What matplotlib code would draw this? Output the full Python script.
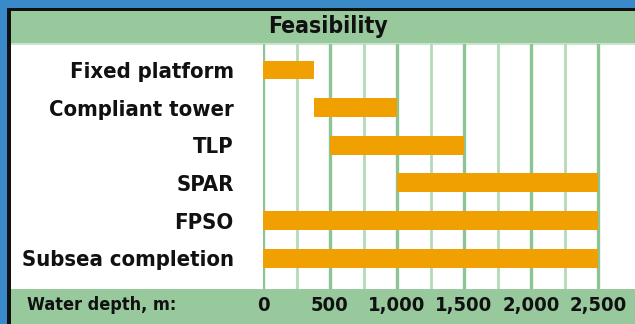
import matplotlib
matplotlib.use("Agg")
import matplotlib.pyplot as plt
from matplotlib.patches import Rectangle
from matplotlib.ticker import FuncFormatter
from matplotlib import font_manager
from matplotlib.font_manager import FontProperties

categories = ["Fixed platform", "Compliant tower", "TLP", "SPAR", "FPSO", "Subsea completion"]
start_depth = [0, 380, 500, 1000, 0, 0]
end_depth = [380, 1000, 1500, 2500, 2500, 2500]
major_ticks = [0, 500, 1000, 1500, 2000, 2500]
minor_ticks = [250, 750, 1250, 1750, 2250]
title = "Feasibility"
xlabel = "Water depth, m:"

cond_file = None
for key in ["LiberationSansNarrow-Bold.", "DejaVuSansCondensed-Bold.", "RobotoCondensed-Bold", "OpenSans_Condensed-Bold", "OpenSansCondensed-Bold"]:
    for f in font_manager.fontManager.ttflist:
        if key.lower() in f.fname.lower().replace(" ", ""):
            cond_file = f.fname
            break
    if cond_file:
        break

def fp(size, weight="bold"):
    if cond_file:
        return FontProperties(fname=cond_file, size=size)
    return FontProperties(family=["Roboto", "DejaVu Sans"], weight=weight, size=size * 0.85)

W, H = 635, 324
BLUE = "#3a89c9"
GREEN = "#97c99c"
ORANGE = "#f0a000"
MAJ = "#8cc495"
MIN = "#b3dab8"
INK = "#111111"

fig = plt.figure(figsize=(W / 100, H / 100), dpi=100, facecolor=BLUE)

def px(x0, y0, x1, y1):
    return (x0 / W, 1 - y1 / H, (x1 - x0) / W, (y1 - y0) / H)

def rect(x0, y0, x1, y1, color):
    l, b, w, h = px(x0, y0, x1, y1)
    fig.patches.append(Rectangle((l, b), w, h, transform=fig.transFigure,
                                 facecolor=color, edgecolor="none", zorder=-5))

rect(7, 8, W + 5, H + 5, INK)
rect(11, 11, W + 5, 44, GREEN)
rect(11, 43, W + 5, 45, "#c9e4cc")
rect(11, 45, W + 5, 289, "white")
rect(11, 289, W + 5, H + 5, GREEN)

x0_px, x2500_px = 263, 598
scale = (x2500_px - x0_px) / 2500.0
ax = fig.add_axes(px(x0_px, 44, W, 289))
ax.set_zorder(2)
ax.set_facecolor("none")
ax.set_xlim(0, (W - x0_px) / scale)
ax.set_ylim(5.82, -0.69)

ax.set_xticks(major_ticks)
ax.set_xticks(minor_ticks, minor=True)
for t in major_ticks:
    ax.axvline(t, color=MAJ, lw=2.4, zorder=1)
for t in minor_ticks:
    ax.axvline(t, color=MIN, lw=2.0, zorder=1)

ypos = list(range(len(categories)))
widths = [e - s for s, e in zip(start_depth, end_depth)]
ax.barh(ypos, widths, left=start_depth, height=0.5, color=ORANGE, zorder=3)

ax.set_yticks(ypos)
ax.set_yticklabels(categories, color=INK)
for lab in ax.get_yticklabels():
    lab.set_fontproperties(fp(15.8))
ax.tick_params(axis="y", length=0, pad=21)
ax.xaxis.set_major_formatter(FuncFormatter(lambda v, p: f"{int(v):,}"))
ax.tick_params(axis="x", which="both", length=0, pad=5, labelcolor=INK)
for lab in ax.get_xticklabels():
    lab.set_fontproperties(fp(14.5, "medium"))
for s in ax.spines.values():
    s.set_visible(False)

fig.text(328 / W, 1 - 27 / H, title, ha="center", va="center",
         fontproperties=fp(16.5), color=INK)
fig.text(27 / W, 1 - 305 / H, xlabel, ha="left", va="center",
         fontproperties=fp(13, "medium"), color=INK)

fig.savefig("out.png", dpi=100, facecolor=BLUE)
